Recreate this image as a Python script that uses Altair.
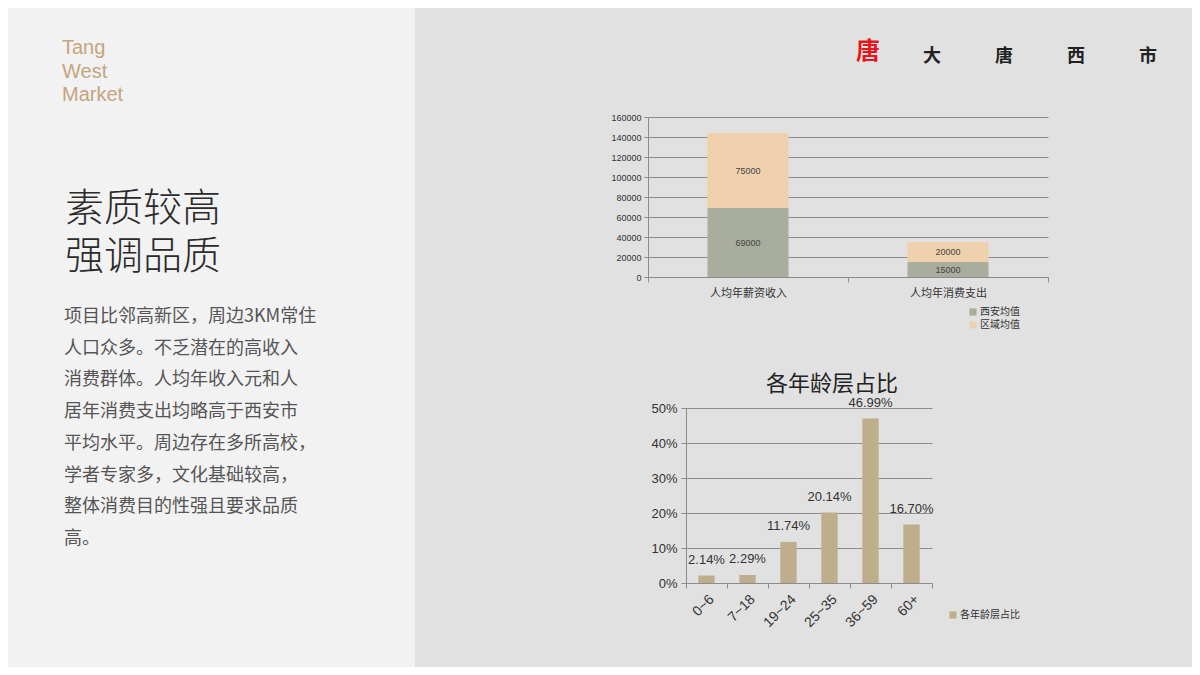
import altair as alt
import pandas as pd

# ---------------- data ----------------
income_categories = ['人均年薪资收入', '人均年消费支出']
xian_avg = [69000, 15000]
region_avg = [75000, 20000]
series_names = ['西安均值', '区域均值']

age_groups = ['0~6', '7~18', '19~24', '25~35', '36~59', '60+']
age_share = [0.0214, 0.0229, 0.1174, 0.2014, 0.4699, 0.1670]
age_series = '各年龄层占比'

brand_lines = ['Tang', 'West', 'Market']
title_lines = ['素质较高', '强调品质']
body_lines = [
    '项目比邻高新区，周边3KM常住',
    '人口众多。不乏潜在的高收入',
    '消费群体。人均年收入元和人',
    '居年消费支出均略高于西安市',
    '平均水平。周边存在多所高校，',
    '学者专家多，文化基础较高，',
    '整体消费目的性强且要求品质',
    '高。',
]
header_chars = ['大', '唐', '西', '市']
seal_char = '唐'

FONT = 'Liberation Sans, Noto Sans CJK SC'
CJK = 'Noto Sans CJK SC'
one = alt.Data(values=[{}])

# ---------------- left panel ----------------
brand = alt.Chart(one).mark_text(
    text=brand_lines, font='Liberation Sans', fontSize=20, color='#c4a57f',
    align='left', baseline='top', lineHeight=23.5
).encode(x=alt.value(54), y=alt.value(30))

title_layers = [
    alt.Chart(one).mark_text(
        text=line, font=CJK, fontSize=39, fontWeight=300, color='#2b2b2b',
        align='left', baseline='middle'
    ).encode(x=alt.value(57), y=alt.value(201 + 48 * k))
    for k, line in enumerate(title_lines)
]

body = alt.Chart(one).mark_text(
    text=body_lines, font=CJK, fontSize=18, color='#555555',
    align='left', baseline='top', lineHeight=31.7
).encode(x=alt.value(56), y=alt.value(300))

left = alt.layer(brand, *title_layers, body).properties(
    width=407, height=659, view=alt.ViewBackground(fill='#f2f2f2', stroke=None)
)

# ---------------- header ----------------
seal = alt.Chart(one).mark_text(
    text=seal_char, font=CJK, fontSize=24, fontWeight='bold', color='#e8151b',
    align='center', baseline='middle'
).encode(x=alt.value(453), y=alt.value(44))
header_x = [517, 589, 661, 733]
header_layers = [seal] + [
    alt.Chart(one).mark_text(
        text=ch, font=CJK, fontSize=18, fontWeight='bold', color='#222222',
        align='center', baseline='middle'
    ).encode(x=alt.value(hx), y=alt.value(49))
    for ch, hx in zip(header_chars, header_x)
]
header = alt.layer(*header_layers).properties(width=777, height=109)


def spacer(w, h):
    return alt.Chart(one).mark_point(opacity=0).properties(width=w, height=h)


# ---------------- chart 1 ----------------
rows = []
for i, c in enumerate(income_categories):
    rows.append({'cat': c, 'series': series_names[0], 'value': xian_avg[i], 'ord': 0})
    rows.append({'cat': c, 'series': series_names[1], 'value': region_avg[i], 'ord': 1})
df1 = pd.DataFrame(rows)

x1 = alt.X('cat:N', sort=income_categories,
           scale=alt.Scale(paddingInner=0, paddingOuter=0),
           axis=alt.Axis(title=None, labelAngle=0, labelFontSize=11, labelColor='#333333',
                         tickBand='extent', tickSize=5, labelPadding=5,
                         domainColor='#8c8c8c', tickColor='#8c8c8c'))
y1_axis = alt.Axis(title=None, values=list(range(0, 160001, 20000)), format='d',
                   labelFontSize=9, labelColor='#333333', grid=True,
                   gridColor='#8c8c8c', gridWidth=1, tickSize=4, labelPadding=3,
                   domainColor='#8c8c8c', tickColor='#8c8c8c')
bars1 = alt.Chart(df1).mark_bar(width={'band': 0.405}).encode(
    x=x1,
    y=alt.Y('value:Q', stack='zero', scale=alt.Scale(domain=[0, 160000]), axis=y1_axis),
    color=alt.Color('series:N', scale=alt.Scale(domain=series_names, range=['#a9ad9e', '#efd1ad']),
                    legend=alt.Legend(title=None, orient='none', legendX=553, legendY=190,
                                      symbolType='square', symbolSize=50, symbolStrokeWidth=0,
                                      labelFontSize=10, labelColor='#333333', rowPadding=3,
                                      labelOffset=2)),
    order=alt.Order('ord:Q'),
)
labels1 = alt.Chart(df1).transform_stack(
    stack='value', groupby=['cat'], as_=['v0', 'v1'], sort=[alt.SortField('ord')]
).transform_calculate(mid='(datum.v0 + datum.v1) / 2').mark_text(
    fontSize=9, color='#444444', baseline='middle'
).encode(
    x=x1,
    y=alt.Y('mid:Q', axis=y1_axis),
    text=alt.Text('value:Q', format='d'),
)
chart1 = alt.layer(bars1, labels1).properties(width=400, height=160)

# ---------------- chart 2 ----------------
df2 = pd.DataFrame({'age': age_groups, 'share': age_share, 'series2': [age_series] * len(age_groups)})
x2 = alt.X('age:N', sort=age_groups, scale=alt.Scale(paddingInner=0, paddingOuter=0),
           axis=alt.Axis(title=None, labelAngle=-45, labelFontSize=14, labelColor='#333333',
                         tickBand='extent', tickSize=5, labelPadding=4,
                         domainColor='#8c8c8c', tickColor='#8c8c8c'))
y2 = alt.Y('share:Q', scale=alt.Scale(domain=[0, 0.5]),
           axis=alt.Axis(title=None, values=[0, 0.1, 0.2, 0.3, 0.4, 0.5], format='.0%',
                         labelFontSize=13, labelColor='#333333', grid=True, gridColor='#8c8c8c',
                         tickSize=5, labelPadding=4, domainColor='#8c8c8c', tickColor='#8c8c8c'))
bars2 = alt.Chart(df2).mark_bar(width={'band': 0.4}).encode(
    x=x2, y=y2,
    color=alt.Color('series2:N', scale=alt.Scale(domain=[age_series], range=['#bfae8c']),
                    legend=alt.Legend(title=None, orient='none', legendX=533, legendY=202,
                                      symbolType='square', symbolSize=50, symbolStrokeWidth=0,
                                      labelFontSize=10, labelColor='#333333', labelOffset=2)),
)
labels2 = alt.Chart(df2).mark_text(dy=-16, fontSize=13, color='#333333', baseline='middle').encode(
    x=x2, y=y2, text=alt.Text('share:Q', format='.2%'))
chart2 = alt.layer(bars2, labels2).properties(
    width=246, height=175,
    title=alt.TitleParams(age_series, fontSize=22, font=CJK, fontWeight='normal', color='#222222',
                          anchor='middle', frame='group', dx=23, offset=1),
)

# ---------------- layout ----------------
row1 = alt.hconcat(spacer(233, 160), chart1, spacing=0, bounds='flush')
row2 = alt.hconcat(spacer(271, 175), chart2, spacing=0, bounds='flush')
# nested concat rows count as zero height in a flush layout, so the spacer carries row1's height too
right = alt.vconcat(header, row1, spacer(10, 291), row2, spacing=0, bounds='flush').resolve_scale(
    color='independent', x='independent', y='independent')

chart = alt.hconcat(left, right, spacing=0, bounds='flush').resolve_scale(
    color='independent', x='independent', y='independent'
).properties(padding=0, background='#e1e1e1').configure(font=FONT).configure_view(stroke=None)

chart.save('out.html', embed_options={'renderer': 'svg', 'actions': False})
